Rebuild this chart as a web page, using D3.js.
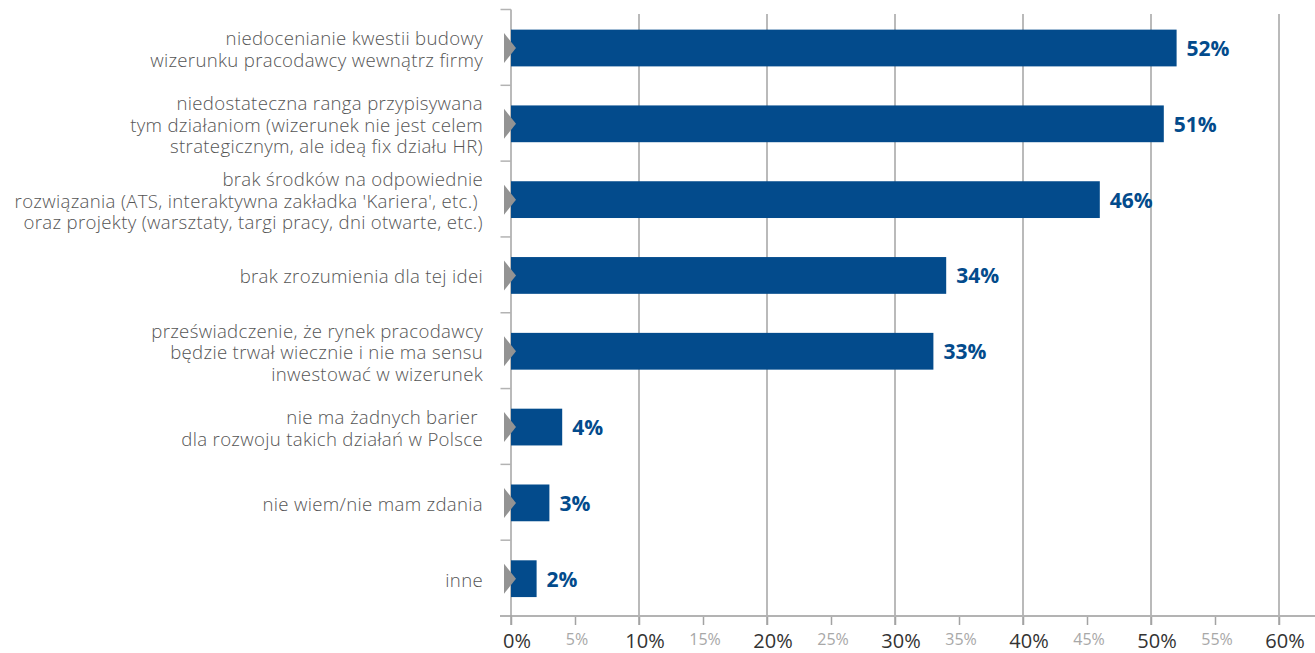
<!DOCTYPE html>
<html>
<head>
<meta charset="utf-8">
<script src="https://cdn.jsdelivr.net/npm/d3@7"></script>
<style>
  html, body { margin: 0; padding: 0; background: #fff; }
  svg { display: block; }
  text { font-family: "Open Sans", "Noto Sans", sans-serif; }
</style>
</head>
<body>
<svg id="chart" width="1315" height="653"></svg>
<script>
// Barriers to employer-branding activities (share of answers, %)
const categories = [
  "niedocenianie kwestii budowy\nwizerunku pracodawcy wewnątrz firmy",
  "niedostateczna ranga przypisywana\ntym działaniom (wizerunek nie jest celem\nstrategicznym, ale ideą fix działu HR)",
  "brak środków na odpowiednie\nrozwiązania (ATS, interaktywna zakładka 'Kariera', etc.) \noraz projekty (warsztaty, targi pracy, dni otwarte, etc.)",
  "brak zrozumienia dla tej idei",
  "przeświadczenie, że rynek pracodawcy\nbędzie trwał wiecznie i nie ma sensu\ninwestować w wizerunek",
  "nie ma żadnych barier \ndla rozwoju takich działań w Polsce",
  "nie wiem/nie mam zdania",
  "inne"
];
const values = [52, 51, 46, 34, 33, 4, 3, 2];
const majorTicks = [0, 10, 20, 30, 40, 50, 60];
const minorTicks = [5, 15, 25, 35, 45, 55];

const svg = d3.select("#chart");
const W = 1315;
const plotLeft = 511, plotRight = 1279, plotTop = 9.5, plotBottom = 616;

const x = d3.scaleLinear().domain([0, 60]).range([plotLeft, plotRight]);
const y = d3.scaleBand()
  .domain(d3.range(categories.length))
  .range([plotTop, plotBottom])
  .paddingInner(0.515)
  .paddingOuter(0.2575);

const axisGrey = "#b3b3b3";
const gridGrey = "#a3a3a3";
const barBlue = "#034b8c";

// vertical gridlines at the major ticks
svg.append("g")
  .selectAll("line")
  .data(majorTicks.filter(d => d > 0))
  .join("line")
  .attr("x1", d => x(d)).attr("x2", d => x(d))
  .attr("y1", 14).attr("y2", plotBottom + 9)
  .attr("stroke", gridGrey).attr("stroke-width", 1.5);

// bottom axis with small tick marks every 5%
const xAxis = d3.axisBottom(x)
  .tickValues(majorTicks.concat(minorTicks).sort(d3.ascending))
  .tickSize(9)
  .tickFormat("");
const gx = svg.append("g").attr("transform", `translate(0,${plotBottom})`).call(xAxis);
gx.select(".domain").remove();
gx.selectAll(".tick line").attr("stroke", gridGrey).attr("stroke-width", 1.5);
svg.append("line")
  .attr("x1", plotLeft - 11).attr("x2", W)
  .attr("y1", plotBottom).attr("y2", plotBottom)
  .attr("stroke", axisGrey).attr("stroke-width", 2);

// tick labels: major in dark grey, minor smaller and light
svg.append("g").selectAll("text")
  .data(majorTicks)
  .join("text")
  .attr("x", d => x(d) + 6)
  .attr("y", 648)
  .attr("text-anchor", "middle")
  .attr("font-size", 20)
  .attr("fill", "#333")
  .text(d => d + "%");
svg.append("g").selectAll("text")
  .data(minorTicks)
  .join("text")
  .attr("x", d => x(d) + 2)
  .attr("y", 645)
  .attr("text-anchor", "middle")
  .attr("font-size", 16)
  .attr("fill", "#a8a8a8")
  .text(d => d + "%");

// left axis line with category separators
svg.append("line")
  .attr("x1", plotLeft).attr("x2", plotLeft)
  .attr("y1", plotTop).attr("y2", plotBottom + 9)
  .attr("stroke", gridGrey).attr("stroke-width", 1.5);
const step = y.step();
svg.append("g").selectAll("line")
  .data(d3.range(categories.length))
  .join("line")
  .attr("x1", plotLeft - 10.5).attr("x2", plotLeft)
  .attr("y1", i => plotTop + i * step).attr("y2", i => plotTop + i * step)
  .attr("stroke", axisGrey).attr("stroke-width", 1.5);

// bars
svg.append("g").selectAll("rect")
  .data(values)
  .join("rect")
  .attr("x", x(0))
  .attr("y", (d, i) => y(i) + 0.6)
  .attr("width", d => x(d) - x(0))
  .attr("height", y.bandwidth())
  .attr("fill", barBlue);

// grey pointer triangles on the axis
svg.append("g").selectAll("path")
  .data(values)
  .join("path")
  .attr("d", (d, i) => {
    const c = y(i) + y.bandwidth() / 2 + 0.6;
    return `M${plotLeft - 7},${c - 15}L${plotLeft + 5},${c}L${plotLeft - 7},${c + 15}Z`;
  })
  .attr("fill", "#939393");

// value labels
svg.append("g").selectAll("text")
  .data(values)
  .join("text")
  .attr("x", d => x(d) + 10)
  .attr("y", (d, i) => y(i) + y.bandwidth() / 2 + 8.5)
  .attr("font-size", 21)
  .attr("font-weight", 700)
  .attr("fill", barBlue)
  .text(d => d + "%");

// category labels, right-aligned, one tspan per line
const lineH = 21.5;
const lab = svg.append("g").selectAll("text")
  .data(categories)
  .join("text")
  .attr("text-anchor", "end")
  .attr("font-size", 18.6)
  .attr("font-weight", 300)
  .attr("letter-spacing", 0.32)
  .attr("fill", "#555")
  .attr("xml:space", "preserve")
  .style("white-space", "pre");
lab.each(function(d, i) {
  const lines = d.split("\n");
  const cy = y(i) + y.bandwidth() / 2 + 2;
  const first = cy - (lines.length - 1) * lineH / 2 + 6.5;
  d3.select(this).selectAll("tspan")
    .data(lines)
    .join("tspan")
    .attr("x", 483)
    .attr("y", (l, k) => first + k * lineH)
    .text(l => l);
});
</script>
</body>
</html>
